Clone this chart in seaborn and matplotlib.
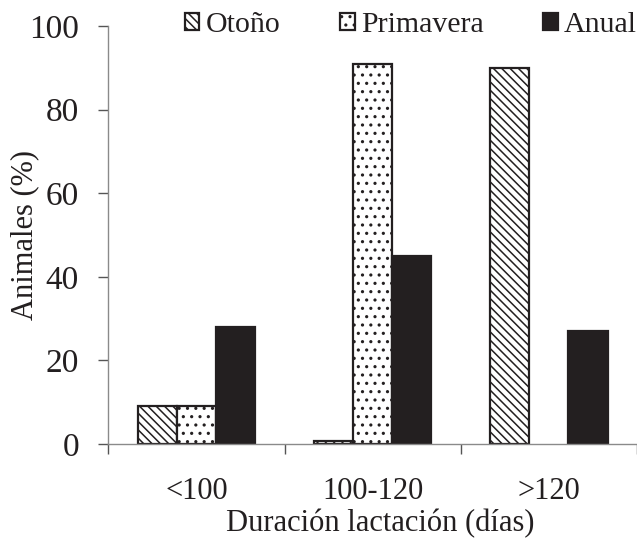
import matplotlib
matplotlib.use("Agg")
import matplotlib.pyplot as plt
import seaborn as sns
import pandas as pd
from matplotlib.patches import Patch

categorias = ["<100", "100-120", ">120"]
otono = [9, 0.8, 90]
primavera = [9, 91, 0]
anual = [28, 45, 27]
estaciones = ["Otoño", "Primavera", "Anual"]

df = pd.DataFrame({
    "duracion": categorias * 3,
    "estacion": [e for e in estaciones for _ in categorias],
    "animales": otono + primavera + anual,
})

sns.set_style("white")
plt.rcParams["font.family"] = ["Liberation Serif", "DejaVu Serif"]
plt.rcParams["hatch.linewidth"] = 1.1

fig = plt.figure(figsize=(6.37, 5.46), dpi=100)
ax = fig.add_axes([0.170, 0.187, 0.83, 0.765])

negro = "#231f20"
estilos = {
    "Otoño": dict(fc="white", hatch="\\\\\\\\"),
    "Primavera": dict(fc="white", hatch=".."),
    "Anual": dict(fc=negro, hatch=None),
}

sns.barplot(data=df, x="duracion", y="animales", hue="estacion",
            order=categorias, hue_order=estaciones, width=0.667, gap=0,
            legend=False, ax=ax)

for cont, est in zip(ax.containers, estaciones):
    for bar in cont:
        bar.set_facecolor(estilos[est]["fc"])
        bar.set_edgecolor(negro)
        bar.set_linewidth(1.6)
        if estilos[est]["hatch"]:
            bar.set_hatch(estilos[est]["hatch"])
        if bar.get_height() == 0:
            bar.set_visible(False)

ax.set_xlim(-0.5, 2.45)
ax.set_ylim(0, 100)
ax.set_yticks([0, 20, 40, 60, 80, 100])
ax.set_xticks([-0.5, 0.5, 1.5, 2.5], minor=True)

for s in ["top", "right"]:
    ax.spines[s].set_visible(False)
for s in ["left", "bottom"]:
    ax.spines[s].set_color("#8a8a8a")
    ax.spines[s].set_linewidth(1.0)

ax.tick_params(axis="y", which="major", direction="out", length=7, width=1,
               color="#555555", labelsize=24, pad=14, left=True)
ax.tick_params(axis="x", which="major", length=0, labelsize=22, pad=24)
ax.tick_params(axis="x", which="minor", direction="out", length=7, width=1,
               color="#555555", bottom=True)
for t in ax.get_yticklabels() + ax.get_xticklabels():
    t.set_color(negro)

ax.set_xlabel("Duración lactación (días)", fontsize=22, color=negro)
ax.set_ylabel("Animales (%)", fontsize=22, color=negro)
# posiciones de las etiquetas en coordenadas del eje
ax.xaxis.set_label_coords(0.515, -0.19)
ax.xaxis.label.set_verticalalignment("center")
ax.yaxis.set_label_coords(-0.158, 0.5)
ax.yaxis.label.set_verticalalignment("center")

handles = [Patch(facecolor=estilos[e]["fc"], edgecolor=negro,
                 hatch=estilos[e]["hatch"], linewidth=1.6) for e in estaciones]
fig.legend(handles, estaciones, loc="center", bbox_to_anchor=(0.645, 0.954),
           ncol=3, frameon=False, fontsize=21.5, handlelength=0.5,
           handleheight=0.5, handletextpad=0.2, columnspacing=2.0,
           labelcolor=negro)

fig.savefig("out.png", dpi=100)
